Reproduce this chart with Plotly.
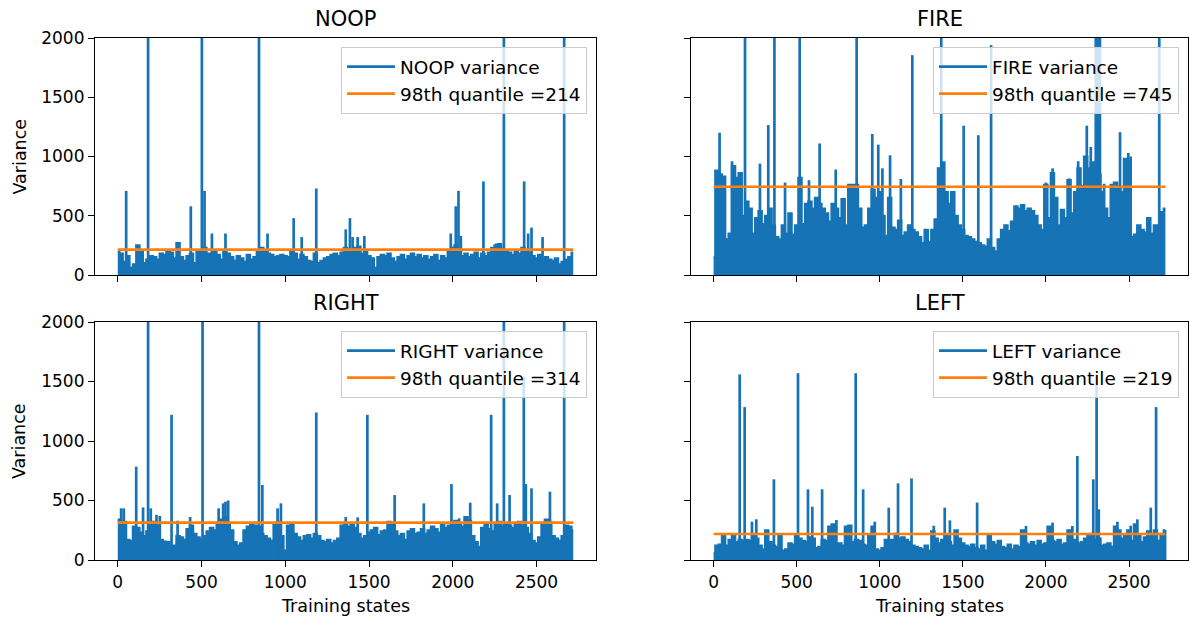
import numpy as np
import plotly.graph_objects as go

# ---------------- data ----------------
N_STATES = 2720
QUANTILES = {"NOOP": 214, "FIRE": 745, "RIGHT": 314, "LEFT": 219}

# local upper envelope of each variance series, one value per ~20 training states
NOOP_ENV = [200, 180, 110, 160, 60, 90, 250, 200, 100, 130,
            160, 150, 130, 180, 170, 200, 190, 140, 270, 150,
            120, 160, 180, 100, 210, 200, 230, 180, 150, 200,
            170, 130, 210, 180, 150, 120, 160, 140, 110, 170,
            130, 150, 200, 230, 210, 180, 170, 150, 160, 170,
            160, 150, 200, 180, 130, 170, 150, 120, 110, 180,
            100, 120, 140, 150, 170, 180, 160, 190, 230, 200,
            210, 230, 240, 180, 200, 160, 140, 60, 150, 170,
            160, 180, 140, 110, 150, 170, 130, 160, 180, 150,
            170, 140, 160, 130, 150, 170, 120, 160, 140, 200,
            230, 250, 200, 160, 180, 150, 170, 190, 140, 180,
            160, 190, 230, 250, 260, 220, 200, 190, 170, 210,
            180, 230, 210, 190, 160, 140, 170, 110, 150, 130,
            120, 140, 90, 110, 130, 150, 190]
FIRE_ENV = [150, 880, 850, 830, 300, 350, 920, 820, 860, 500,
            620, 560, 350, 480, 540, 430, 500, 560, 420, 320,
            300, 420, 350, 520, 340, 420, 820, 430, 600, 620,
            560, 650, 600, 560, 520, 450, 600, 560, 480, 640,
            420, 760, 760, 760, 560, 400, 420, 560, 720, 650,
            700, 500, 330, 650, 400, 380, 460, 330, 360, 420,
            380, 360, 320, 270, 380, 280, 380, 470, 900, 950,
            700, 600, 700, 500, 420, 380, 330, 320, 300, 280,
            270, 250, 240, 300, 230, 200, 300, 380, 420, 370,
            450, 580, 560, 590, 540, 560, 540, 500, 420, 380,
            760, 480, 860, 650, 420, 550, 480, 800, 520, 700,
            900, 750, 1000, 900, 950, 900, 850, 700, 560, 480,
            760, 780, 750, 700, 980, 960, 320, 340, 420, 380,
            360, 480, 350, 420, 400, 530, 560]
RIGHT_ENV = [340, 300, 320, 170, 160, 280, 270, 230, 200, 240,
             300, 320, 290, 170, 155, 150, 110, 120, 200, 190,
             170, 260, 290, 220, 190, 170, 200, 240, 270, 250,
             300, 340, 360, 300, 250, 150, 120, 140, 250, 280,
             300, 290, 280, 220, 200, 180, 160, 300, 320, 200,
             80, 290, 300, 220, 190, 160, 200, 210, 180, 220,
             200, 160, 150, 170, 140, 160, 180, 290, 300, 280,
             310, 270, 220, 180, 200, 230, 250, 270, 210, 240,
             250, 320, 300, 240, 200, 220, 170, 240, 260, 220,
             230, 260, 220, 250, 280, 260, 230, 300, 270, 290,
             320, 330, 300, 280, 360, 330, 200, 150, 110, 270,
             300, 260, 240, 300, 320, 280, 310, 290, 270, 300,
             320, 290, 270, 220, 160, 140, 190, 300, 340, 320,
             200, 180, 160, 200, 290, 280, 250]
LEFT_ENV = [56, 120, 130, 210, 120, 170, 200, 150, 170, 160,
            170, 160, 200, 180, 120, 90, 250, 150, 120, 110,
            200, 80, 90, 140, 130, 210, 180, 160, 150, 190,
            180, 100, 110, 170, 160, 280, 300, 130, 140, 120,
            280, 290, 150, 170, 160, 130, 120, 200, 280, 90,
            80, 100, 170, 160, 170, 220, 180, 190, 170, 150,
            120, 110, 100, 90, 120, 80, 240, 180, 140, 170,
            210, 150, 120, 250, 180, 140, 120, 110, 130, 100,
            90, 120, 80, 200, 150, 130, 160, 110, 100, 130,
            90, 120, 110, 250, 140, 130, 150, 120, 160, 130,
            140, 280, 160, 150, 170, 130, 140, 250, 160, 170,
            140, 150, 180, 200, 220, 170, 180, 120, 130, 140,
            110, 280, 250, 180, 200, 250, 160, 300, 200, 150,
            190, 240, 200, 250, 160, 220, 250]

# isolated high-variance states (state index, variance)
NOOP_SPIKE_X = [50, 181, 436, 502, 518, 562, 643, 843, 894, 1050, 1098, 1185, 1361, 1386, 1402,
                1432, 1472, 1988, 2018, 2034, 2048, 2183, 2259, 2279, 2305, 2426, 2450, 2470, 2536, 2665]
NOOP_SPIKE_Y = [710, 3000, 580, 3000, 710, 350, 350, 3000, 350, 480, 320, 730, 385, 480, 320,
                320, 330, 350, 580, 710, 330, 790, 265, 270, 3000, 790, 350, 400, 320, 3000]
FIRE_SPIKE_X = [36, 111, 189, 279, 329, 366, 430, 518, 574, 638, 735, 861, 955, 991, 1016, 1062, 1127, 1196,
                1370, 1505, 1593, 1670, 2000, 2040, 2140, 2194, 2246, 2270, 2300, 2313, 2325, 2350, 2446,
                2496, 2510, 2682]
FIRE_SPIKE_Y = [1200, 960, 3000, 940, 1265, 3000, 780, 3000, 800, 1110, 890, 3000, 1190, 1100, 900, 1010, 810,
                1855, 3000, 1260, 1180, 1940, 780, 900, 815, 960, 1260, 1080, 3000, 3000, 3000, 770, 1205,
                1030, 1000, 3000]
RIGHT_SPIKE_X = [20, 36, 110, 151, 181, 197, 231, 251, 321, 357, 432, 506, 602, 629, 643, 659, 843, 863, 954,
                 974, 1185, 1361, 1432, 1490, 1653, 1827, 1992, 2038, 2104, 2229, 2265, 2305, 2339, 2424,
                 2436, 2470, 2580, 2665]
RIGHT_SPIKE_Y = [434, 434, 784, 442, 3000, 434, 380, 370, 1220, 330, 361, 3000, 434, 476, 490, 500, 3000, 630,
                 434, 476, 1240, 361, 358, 1220, 546, 476, 638, 350, 482, 1220, 476, 3000, 546, 1540, 638,
                 602, 574, 3000]
LEFT_SPIKE_X = [157, 187, 231, 257, 363, 508, 568, 594, 653, 739, 855, 900, 970, 1054, 1110, 1191, 1325, 1391,
                1422, 1586, 1880, 2040, 2159, 2189, 2285, 2305, 2318, 2430, 2510, 2550, 2631, 2663, 2717]
LEFT_SPIKE_Y = [1560, 1285, 322, 342, 678, 1570, 594, 448, 594, 336, 1570, 594, 322, 440, 644, 686, 288, 440,
                333, 482, 286, 314, 286, 874, 678, 1560, 426, 322, 288, 342, 440, 1285, 252]

X_TICKS = [0, 500, 1000, 1500, 2000, 2500]
Y_TICKS = [0, 500, 1000, 1500, 2000]

# ---------------- figure ----------------
W, H = 1189, 621
BLUE = "#1673b5"
ORANGE = "#ff7f0e"
FONT = "DejaVu Sans"

# axes boxes in pixels: left, right, top, bottom
panels = [
    ("NOOP", NOOP_ENV, NOOP_SPIKE_X, NOOP_SPIKE_Y, (95, 596, 38, 275), True, False),
    ("FIRE", FIRE_ENV, FIRE_SPIKE_X, FIRE_SPIKE_Y, (691, 1188, 38, 275), False, False),
    ("RIGHT", RIGHT_ENV, RIGHT_SPIKE_X, RIGHT_SPIKE_Y, (95, 596, 322, 560), True, True),
    ("LEFT", LEFT_ENV, LEFT_SPIKE_X, LEFT_SPIKE_Y, (691, 1188, 322, 560), False, True),
]

fx = lambda p: p / W
fy = lambda p: 1 - p / H

fig = go.Figure()
layout = dict(width=W, height=H, margin=dict(l=0, r=0, t=0, b=0, pad=0, autoexpand=False),
              paper_bgcolor="white", plot_bgcolor="white",
              font=dict(family=FONT, size=17, color="black"), showlegend=True)
annotations = []

for i, (name, env, sx, sy, box, show_y, show_x) in enumerate(panels, start=1):
    L, R, T, B = box
    xa = "x" if i == 1 else f"x{i}"
    ya = "y" if i == 1 else f"y{i}"
    lg = "legend" if i == 1 else f"legend{i}"
    states = np.linspace(0, N_STATES - 1, len(env))

    fig.add_trace(go.Scatter(x=states, y=env, mode="lines", fill="tozeroy",
                             fillcolor=BLUE, line=dict(color=BLUE, width=2.2, shape="hvh"),
                             showlegend=False, xaxis=xa, yaxis=ya, hoverinfo="skip"))
    px_, py_ = [], []
    for s, v in zip(sx, sy):
        px_ += [s, s, None]
        py_ += [0, v, None]
    fig.add_trace(go.Scatter(x=px_, y=py_, mode="lines", line=dict(color=BLUE, width=2.7),
                             name=f"{name} variance", legend=lg, xaxis=xa, yaxis=ya))
    q = QUANTILES[name]
    fig.add_trace(go.Scatter(x=[0, N_STATES - 1], y=[q, q], mode="lines",
                             line=dict(color=ORANGE, width=2.6),
                             name=f"98th quantile ={q}", legend=lg, xaxis=xa, yaxis=ya))

    axis_common = dict(showline=True, linecolor="black", linewidth=1.2, mirror=True,
                       ticks="outside", ticklen=6, tickwidth=1.2, tickcolor="black",
                       showgrid=False, zeroline=False, automargin=False,
                       tickfont=dict(family=FONT, size=17, color="black"))
    layout["xaxis" if i == 1 else f"xaxis{i}"] = dict(
        domain=[fx(L), fx(R)], anchor=ya, range=[-136, 2855],
        tickvals=X_TICKS, ticktext=[str(t) for t in X_TICKS],
        showticklabels=show_x, **axis_common)
    layout["yaxis" if i == 1 else f"yaxis{i}"] = dict(
        domain=[fy(B), fy(T)], anchor=xa, range=[0, 2000],
        tickvals=Y_TICKS, ticktext=[str(t) for t in Y_TICKS],
        showticklabels=show_y, **axis_common)
    layout[lg] = dict(x=fx(R - 9), xanchor="right", y=fy(T + 9), yanchor="top",
                      bgcolor="rgba(255,255,255,0.8)", bordercolor="#cccccc", borderwidth=1,
                      font=dict(family=FONT, size=18.5, color="black"), tracegroupgap=0,
                      itemwidth=48)

    annotations.append(dict(text=name, x=fx((L + R) / 2), y=fy(T - 19), xref="paper", yref="paper",
                            xanchor="center", yanchor="middle", showarrow=False,
                            font=dict(family=FONT, size=21, color="black")))
    if show_y:
        annotations.append(dict(text="Variance", x=fx(19), y=fy((T + B) / 2), xref="paper", yref="paper",
                                xanchor="center", yanchor="middle", textangle=-90, showarrow=False,
                                font=dict(family=FONT, size=17.5, color="black")))
    if show_x:
        annotations.append(dict(text="Training states", x=fx((L + R) / 2), y=fy(606), xref="paper",
                                yref="paper", xanchor="center", yanchor="middle", showarrow=False,
                                font=dict(family=FONT, size=17.5, color="black")))

layout["annotations"] = annotations
fig.update_layout(**layout)
fig.write_html("out.html")
